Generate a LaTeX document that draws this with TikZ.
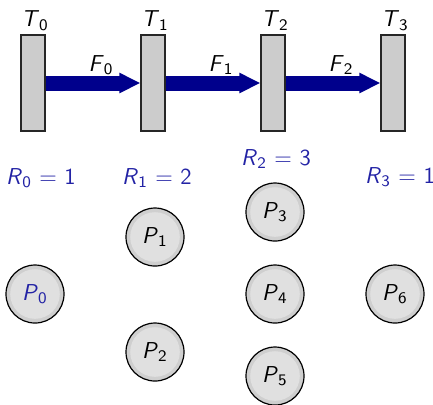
\documentclass[tikz,border=0pt]{standalone}
\usepackage{fontspec}
\usetikzlibrary{arrows.meta,calc}
\definecolor{ablue}{RGB}{0,0,140}
\definecolor{lblue}{RGB}{35,35,165}
\definecolor{rectgray}{RGB}{204,204,204}
\definecolor{ringout}{RGB}{207,207,207}
\definecolor{ringin}{RGB}{224,224,224}
\newcommand{\sv}[2]{\textit{#1}\textsubscript{#2}}
\begin{document}
\begin{tikzpicture}[x=0.5pt,y=-0.5pt,
  font=\fontsize{11.5}{14}\selectfont\sffamily,
  tbar/.style={draw=black!85, fill=rectgray, minimum width=12pt, minimum height=48pt, inner sep=0pt, line width=0.6pt},
  flow/.style={draw=ablue, line width=7.5pt, -{Triangle[length=10.5pt,width=9.5pt]}},
  lbl/.style={anchor=base, inner sep=0pt, text=black},
  rlbl/.style={anchor=base, inner sep=0pt, text=lblue},
  pnode/.style={circle, draw=black, line width=0.6pt, fill=ringout, minimum size=29pt, inner sep=0pt,
    path picture={\fill[ringin] (path picture bounding box.center) circle (12.4pt);}}
]
\useasboundingbox (0,0) rectangle (433,404);
% tubes
\node[tbar] (T0) at (33,83) {};
\node[tbar] (T1) at (153,83) {};
\node[tbar] (T2) at (273,83) {};
\node[tbar] (T3) at (393,83) {};
% flows
\draw[flow] (T0.east) -- (T1.west);
\draw[flow] (T1.east) -- (T2.west);
\draw[flow] (T2.east) -- (T3.west);
% labels
\node[lbl] (t0) at ([xshift=1pt,yshift=4pt]T0.north) {\sv{T}{0}};
\node[lbl] (t1) at ([xshift=1pt,yshift=4pt]T1.north) {\sv{T}{1}};
\node[lbl] (t2) at ([xshift=1pt,yshift=4pt]T2.north) {\sv{T}{2}};
\node[lbl] (t3) at ([xshift=1pt,yshift=4pt]T3.north) {\sv{T}{3}};
\node[lbl] (f0) at ($(T0.east)!0.5!(T1.west)+(8,-12)$) {\sv{F}{0}};
\node[lbl] (f1) at ($(T1.east)!0.5!(T2.west)+(8,-12)$) {\sv{F}{1}};
\node[lbl] (f2) at ($(T2.east)!0.5!(T3.west)+(8,-12)$) {\sv{F}{2}};
% R labels
\node[rlbl] (r0) at (41,184) {\sv{R}{0} = 1};
\node[rlbl] (r1) at (157,184) {\sv{R}{1} = 2};
\node[rlbl] (r2) at (276,165) {\sv{R}{2} = 3};
\node[rlbl] (r3) at (400,183) {\sv{R}{3} = 1};
% processes
\node[pnode, text=lblue] (p0) at (35,294) {\sv{P}{0}};
\node[pnode] (p1) at (155,237) {\sv{P}{1}};
\node[pnode] (p2) at (155,352) {\sv{P}{2}};
\node[pnode] (p3) at (275,212) {\sv{P}{3}};
\node[pnode] (p4) at (275,294) {\sv{P}{4}};
\node[pnode] (p5) at (275,376) {\sv{P}{5}};
\node[pnode] (p6) at (395,294) {\sv{P}{6}};
\end{tikzpicture}
\end{document}
